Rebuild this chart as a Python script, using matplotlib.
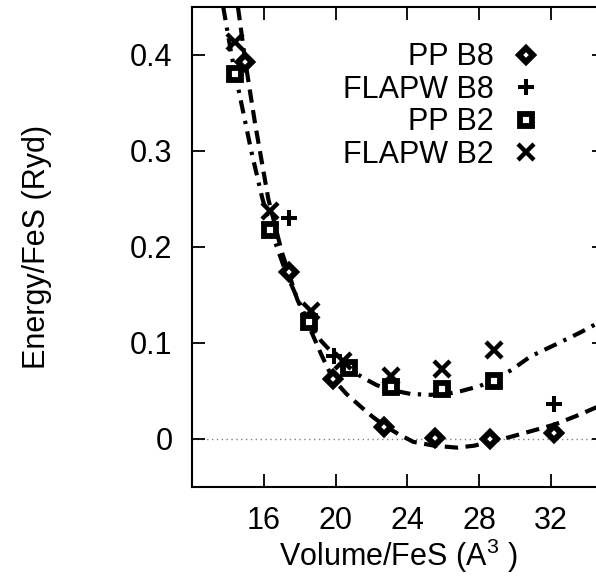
import matplotlib

matplotlib.use("Agg")

import matplotlib.pyplot as plt

plt.rcParams["font.family"] = ["Liberation Sans", "DejaVu Sans"]
plt.rcParams["mathtext.fontset"] = "custom"
plt.rcParams["mathtext.rm"] = "Liberation Sans"
plt.rcParams["mathtext.it"] = "Liberation Sans"

# measured points (volume in A^3, energy in Ryd)
pp_b8_vol = [14.97, 17.38, 19.83, 22.71, 25.55, 28.62, 32.18]
pp_b8_en = [0.393, 0.174, 0.063, 0.012, 0.001, 0.000, 0.006]

flapw_b8_vol = [17.38, 19.92, 32.18]
flapw_b8_en = [0.230, 0.086, 0.036]

pp_b2_vol = [14.41, 16.32, 18.50, 20.72, 23.09, 25.93, 28.80]
pp_b2_en = [0.380, 0.218, 0.122, 0.074, 0.054, 0.052, 0.060]

flapw_b2_vol = [14.41, 16.32, 18.60, 20.40, 23.09, 25.93, 28.80]
flapw_b2_en = [0.414, 0.238, 0.133, 0.081, 0.066, 0.073, 0.093]

# fitted curves
fit_b8_vol = [14.56, 14.97, 15.5, 16.25, 17.0, 17.85, 18.5, 19.2, 19.83, 20.6,
              21.38, 22.0, 22.71, 23.5, 24.33, 25.5, 26.76, 27.7, 28.62, 29.7,
              30.85, 32.18, 33.4, 34.52, 35.0]
fit_b8_en = [0.450, 0.393, 0.330, 0.250, 0.195, 0.146, 0.118, 0.088, 0.063, 0.047,
             0.034, 0.024, 0.014, 0.005, -0.003, -0.007, -0.009, -0.007, -0.003, 0.002,
             0.008, 0.015, 0.024, 0.033, 0.037]

fit_b2_vol = [13.74, 14.2, 14.69, 15.3, 15.9, 16.5, 17.2, 17.9, 18.5, 19.2,
              20.0, 20.72, 21.5, 22.3, 23.1, 24.16, 25.28, 26.2, 27.0, 28.0,
              28.8, 29.8, 30.85, 32.2, 33.63, 34.52, 35.0]
fit_b2_en = [0.450, 0.400, 0.355, 0.300, 0.252, 0.212, 0.175, 0.145, 0.122, 0.102,
             0.086, 0.074, 0.064, 0.056, 0.051, 0.047, 0.046, 0.047, 0.050, 0.055,
             0.061, 0.072, 0.086, 0.098, 0.111, 0.120, 0.125]

x_ticks = [16, 20, 24, 28, 32]
y_ticks = [0, 0.1, 0.2, 0.3, 0.4]
y_tick_labels = ["0", "0.1", "0.2", "0.3", "0.4"]


def main() -> None:
    fig = plt.figure(figsize=(5.96, 5.77), dpi=100)
    ax = fig.add_axes([192 / 596, 1 - 487 / 577, 413 / 596, 480 / 577])

    ax.axhline(0, color="gray", linewidth=1.0, linestyle=(0, (1, 2.5)), zorder=1)

    ax.plot(fit_b8_vol, fit_b8_en, color="black", linewidth=3.0,
            linestyle=(0, (3.2, 1.8)), zorder=2)
    ax.plot(fit_b2_vol, fit_b2_en, color="black", linewidth=3.0,
            linestyle=(0, (3.2, 1.8, 0.8, 1.8)), zorder=2)

    ax.plot(pp_b8_vol, pp_b8_en, linestyle="none", marker="D", markersize=7.2,
            markerfacecolor="white", markeredgecolor="black", markeredgewidth=4.3,
            label="PP B8", zorder=3)
    ax.plot(flapw_b8_vol, flapw_b8_en, linestyle="none", marker="+", markersize=11,
            markeredgecolor="black", markeredgewidth=2.9, label="FLAPW B8", zorder=3)
    ax.plot(pp_b2_vol, pp_b2_en, linestyle="none", marker="s", markersize=9.1,
            markerfacecolor="white", markeredgecolor="black", markeredgewidth=4.2,
            label="PP B2", zorder=3)
    ax.plot(flapw_b2_vol, flapw_b2_en, linestyle="none", marker="x", markersize=11,
            markeredgecolor="black", markeredgewidth=3.2, label="FLAPW B2", zorder=3)

    ax.set_xlim(12, 35)
    ax.set_ylim(-0.05, 0.45)
    ax.set_xticks(x_ticks)
    ax.set_yticks(y_ticks)
    ax.set_yticklabels(y_tick_labels)
    ax.tick_params(direction="in", length=9.5, width=1.3, labelsize=22,
                   top=True, right=True, pad=14)
    for spine in ax.spines.values():
        spine.set_linewidth(1.5)

    ax.set_xlabel("Volume/FeS (A$^3$ )", fontsize=22, labelpad=0)
    ax.set_ylabel("Energy/FeS (Ryd)", fontsize=22, labelpad=56)

    ax.legend(loc="upper right", bbox_to_anchor=(0.882, 0.958), frameon=False,
              markerfirst=False, fontsize=22, handlelength=1.0, handletextpad=0.54,
              labelspacing=0.08, borderpad=0.0, alignment="right")

    fig.savefig("out.png", dpi=100)
    plt.close(fig)


if __name__ == "__main__":
    main()
